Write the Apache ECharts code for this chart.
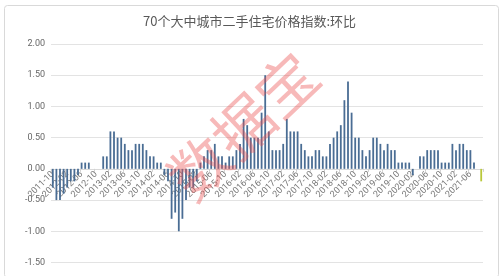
<!DOCTYPE html>
<html>
<head>
<meta charset="utf-8">
<script src="https://cdn.jsdelivr.net/npm/echarts@6/dist/echarts.min.js"></script>
<style>
html,body{margin:0;padding:0;background:#fff;}
#chart{width:499px;height:276px;}
</style>
</head>
<body>
<div id="chart"></div>
<script>
var titleText = '70个大中城市二手住宅价格指数:环比';
var watermarkText = '数据宝';

var categories = [
'2011-10','2011-11','2011-12',
'2012-01','2012-02','2012-03','2012-04','2012-05','2012-06','2012-07','2012-08','2012-09','2012-10','2012-11','2012-12',
'2013-01','2013-02','2013-03','2013-04','2013-05','2013-06','2013-07','2013-08','2013-09','2013-10','2013-11','2013-12',
'2014-01','2014-02','2014-03','2014-04','2014-05','2014-06','2014-07','2014-08','2014-09','2014-10','2014-11','2014-12',
'2015-01','2015-02','2015-03','2015-04','2015-05','2015-06','2015-07','2015-08','2015-09','2015-10','2015-11','2015-12',
'2016-01','2016-02','2016-03','2016-04','2016-05','2016-06','2016-07','2016-08','2016-09','2016-10','2016-11','2016-12',
'2017-01','2017-02','2017-03','2017-04','2017-05','2017-06','2017-07','2017-08','2017-09','2017-10','2017-11','2017-12',
'2018-01','2018-02','2018-03','2018-04','2018-05','2018-06','2018-07','2018-08','2018-09','2018-10','2018-11','2018-12',
'2019-01','2019-02','2019-03','2019-04','2019-05','2019-06','2019-07','2019-08','2019-09','2019-10','2019-11','2019-12',
'2020-01','2020-02','2020-03','2020-04','2020-05','2020-06','2020-07','2020-08','2020-09','2020-10','2020-11','2020-12',
'2021-01','2021-02','2021-03','2021-04','2021-05','2021-06','2021-07','2021-08','2021-09'
];

var values2011 = [-0.3,-0.5,-0.5];
var values2012 = [-0.4,-0.3,-0.2,-0.2,-0.1,0.1,0.1,0.1,0,0,0,0.2];
var values2013 = [0.2,0.6,0.6,0.5,0.5,0.4,0.3,0.3,0.4,0.4,0.4,0.3];
var values2014 = [0.2,0.2,0.1,0.1,-0.1,-0.2,-0.8,-0.7,-1.0,-0.8,-0.5,-0.3];
var values2015 = [-0.3,-0.2,0.1,0.2,0.3,0.3,0.4,0.2,0.2,0.1,0.2,0.2];
var values2016 = [0.3,0.4,0.8,0.7,0.5,0.5,0.5,0.9,1.5,0.6,0.3,0.3];
var values2017 = [0.3,0.4,0.8,0.6,0.6,0.6,0.4,0.3,0.2,0.2,0.3,0.3];
var values2018 = [0.2,0.2,0.4,0.5,0.6,0.7,1.1,1.4,0.9,0.5,0.5,0.3];
var values2019 = [0.2,0.3,0.5,0.5,0.4,0.3,0.4,0.3,0.3,0.1,0.1,0.1];
var values2020 = [0.1,-0.1,0,0.2,0.2,0.3,0.3,0.3,0.3,0.1,0.1,0.1];
var values2021 = [0.4,0.3,0.4,0.4,0.3,0.3,0.1,0,-0.2];

var yTicks = [-1.5,-1.0,-0.5,0,0.5,1.0,1.5,2.0];

var values = [].concat(values2011,values2012,values2013,values2014,values2015,values2016,values2017,values2018,values2019,values2020,values2021);

var barColor = '#4a6d94';
var lastColor = '#b9c83a';

var seriesData = values.map(function(v,i){
  if (i === values.length - 1) return {value: v, itemStyle: {color: lastColor}};
  return v;
});

var gridTop = 44, gridBottom = 13.5, chartH = 276;
var yMin = yTicks[0], yMax = yTicks[yTicks.length-1];
var plotH = chartH - gridTop - gridBottom;
var zeroOffset = -plotH * (0 - yMin) / (yMax - yMin);

var chart = echarts.init(document.getElementById('chart'), null, {renderer:'canvas'});
chart.setOption({
  animation: false,
  backgroundColor: '#fff',
  title: {
    text: titleText,
    left: 'center',
    top: 10,
    textStyle: {fontSize: 13, fontWeight: 'normal', color: '#595959', fontFamily: '"Noto Sans CJK SC", sans-serif'}
  },
  grid: {left: 51, right: 16, top: gridTop, bottom: gridBottom, containLabel: false},
  xAxis: {
    type: 'category',
    data: categories,
    offset: zeroOffset,
    axisLine: {onZero: false, lineStyle: {color: '#d9d9d9'}},
    axisTick: {show: true, interval: 3, length: 3, lineStyle: {color: '#d0d0d0'}},
    axisLabel: {interval: 3, rotate: 45, fontSize: 9, color: '#777', margin: 4, fontFamily: 'Roboto, sans-serif'},
    splitLine: {show: false}
  },
  yAxis: {
    type: 'value',
    min: yMin,
    max: yMax,
    interval: 0.5,
    axisLine: {show: false},
    axisTick: {show: false},
    axisLabel: {fontSize: 9, color: '#666', margin: 6, fontFamily: 'Roboto, sans-serif',
      formatter: function(v){ return v.toFixed(2); }},
    splitLine: {lineStyle: {color: '#e3e3e3'}}
  },
  series: [{
    type: 'bar',
    data: seriesData,
    barWidth: '50%',
    itemStyle: {color: barColor}
  }],
  graphic: [
    {type: 'rect', left: 2, top: 3, z: -10, silent: true,
     shape: {width: 494, height: 272, r: 3},
     style: {fill: 'none', stroke: '#d9d9d9', lineWidth: 1}},
    {type: 'text', x: 243, y: 126, rotation: 0.76, z: 100, silent: true,
     style: {text: watermarkText, fontSize: 60, fontWeight: 'normal', fontFamily: '"Noto Sans CJK SC", sans-serif',
       fill: 'rgba(236,80,80,0.4)', align: 'center', verticalAlign: 'middle'}}
  ]
});
</script>
</body>
</html>
